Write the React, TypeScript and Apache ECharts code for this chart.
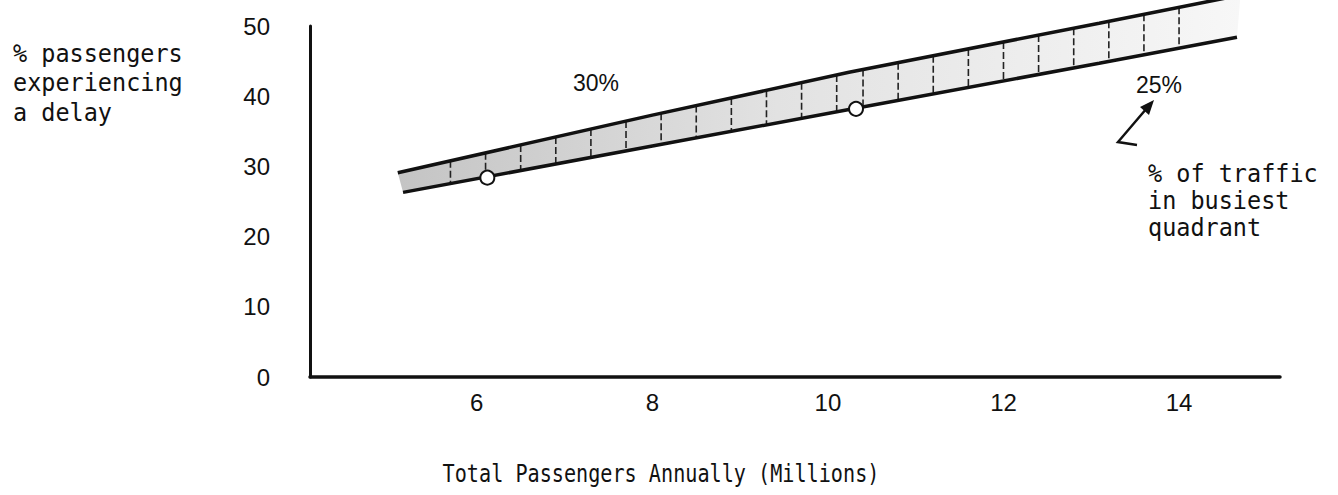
import React, { useEffect, useRef } from "react";
import * as echarts from "echarts";

// ---- data ----
const xTickValues = [6, 8, 10, 12, 14];
const yTicks = [0, 10, 20, 30, 40, 50];

// 30% traffic-in-busiest-quadrant line (upper edge of band)
const upperX = [5.1, 8.0, 10.24, 13.09, 14.7];
const upperY = [29.1, 37.3, 43.4, 50.4, 54.4];

// 25% line (lower edge of band)
const lowerX = [5.16, 8.0, 10.24, 13.09, 14.66];
const lowerY = [26.3, 32.9, 38.1, 44.7, 48.4];

// observed points (open circles)
const circleX = [6.12, 10.32];
const circleY = [28.4, 38.2];

// hand-drawn vertical hatch strokes inside the band
const hatchX = [5.7, 6.1, 6.5, 6.9, 7.3, 7.7, 8.1, 8.5, 8.9, 9.3, 9.7, 10.1, 10.4, 10.8, 11.2, 11.6, 12.0, 12.4, 12.8, 13.2, 13.6, 14.0];

const yTitle = ["% passengers", "experiencing", "a delay"];
const xTitle = "Total Passengers Annually (Millions)";
const noteLines = ["% of traffic", "in busiest", "quadrant"];
const labelUpper = "30%";
const labelLower = "25%";

const MONO = "'DejaVu Sans Mono', 'Liberation Mono', monospace";
const SANS = "'Liberation Sans', Arial, sans-serif";
const INK = "#111";

function interpAt(pts: number[][], px: number): number {
  for (let i = 0; i < pts.length - 1; i++) {
    const a = pts[i], b = pts[i + 1];
    if (px >= a[0] && px <= b[0]) {
      const t = (px - a[0]) / (b[0] - a[0]);
      return a[1] + t * (b[1] - a[1]);
    }
  }
  return px < pts[0][0] ? pts[0][1] : pts[pts.length - 1][1];
}

export default function App() {
  const ref = useRef<HTMLDivElement>(null);

  useEffect(() => {
    if (!ref.current) return;
    const chart = echarts.init(ref.current, null, { renderer: "svg" });

    const graphics: any[] = [];
    yTitle.forEach((t, i) => {
      graphics.push({
        type: "text",
        x: 13,
        y: [53, 82, 112][i],
        scaleX: 0.94,
        style: { text: t, font: `25px ${MONO}`, fill: INK, textAlign: "left", textVerticalAlign: "middle" },
      });
    });
    noteLines.forEach((t, i) => {
      graphics.push({
        type: "text",
        x: 1148,
        y: [173, 200, 227][i],
        scaleX: 0.94,
        style: { text: t, font: `25px ${MONO}`, fill: INK, textAlign: "left", textVerticalAlign: "middle" },
      });
    });
    graphics.push({
      type: "text",
      x: 661,
      y: 473,
      scaleX: 0.84,
      style: { text: xTitle, font: `24px ${MONO}`, fill: INK, textAlign: "center", textVerticalAlign: "middle" },
    });
    graphics.push({
      type: "text",
      x: 596,
      y: 83,
      style: { text: labelUpper, font: `23px ${SANS}`, fill: INK, textAlign: "center", textVerticalAlign: "middle" },
    });
    graphics.push({
      type: "text",
      x: 1159,
      y: 85,
      style: { text: labelLower, font: `23px ${SANS}`, fill: INK, textAlign: "center", textVerticalAlign: "middle" },
    });
    // arrow pointing to the 25% label
    graphics.push({
      type: "polyline",
      shape: { points: [[1137, 145], [1118, 142], [1147, 108]] },
      style: { stroke: INK, lineWidth: 2.5, fill: "none" },
    });
    graphics.push({
      type: "polygon",
      shape: { points: [[1154, 100], [1149, 115], [1140, 107]] },
      style: { fill: INK },
    });

    chart.setOption({
      animation: false,
      backgroundColor: "#fff",
      grid: { left: 310, right: 58, top: 26, bottom: 118 },
      xAxis: {
        type: "value",
        min: 4.1,
        max: 15.15,
        axisLine: { show: true, lineStyle: { color: INK, width: 3.5 } },
        axisTick: { show: false },
        splitLine: { show: false },
        axisLabel: {
          customValues: xTickValues,
          margin: 13,
          color: INK,
          fontSize: 24,
          fontFamily: SANS,
          formatter: (v: number) => String(v),
        },
      },
      yAxis: {
        type: "value",
        min: yTicks[0],
        max: yTicks[yTicks.length - 1],
        interval: 10,
        axisLine: { show: true, lineStyle: { color: INK, width: 3 } },
        axisTick: { show: false },
        splitLine: { show: false },
        axisLabel: { margin: 40, color: INK, fontSize: 24, fontFamily: SANS },
      },
      series: [
        {
          type: "custom",
          coordinateSystem: "cartesian2d",
          clip: false,
          silent: true,
          z: 1,
          data: [[10, 40]],
          renderItem: (_params: any, api: any) => {
            const up = upperX.map((x, i) => api.coord([x, upperY[i]]));
            const lo = lowerX.map((x, i) => api.coord([x, lowerY[i]]));
            const poly = up.concat(lo.slice().reverse());
            const hatch = hatchX.map((x) => {
              const px = api.coord([x, 0])[0];
              return {
                type: "line",
                shape: { x1: px, y1: interpAt(up, px), x2: px, y2: interpAt(lo, px) },
                style: { stroke: "#222", lineWidth: 1.6, lineDash: [7, 3] },
              };
            });
            return {
              type: "group",
              children: [
                {
                  type: "polygon",
                  shape: { points: poly },
                  style: {
                    fill: {
                      type: "linear", x: 0, y: 0, x2: 1, y2: 0,
                      colorStops: [
                        { offset: 0, color: "#c4c4c4" },
                        { offset: 0.45, color: "#e2e2e2" },
                        { offset: 1, color: "#f7f7f7" },
                      ],
                    },
                  },
                },
                ...hatch,
              ],
            };
          },
        },
        {
          type: "line",
          name: labelUpper,
          data: upperX.map((x, i) => [x, upperY[i]]),
          symbol: "none",
          clip: false,
          z: 3,
          lineStyle: { color: INK, width: 3.5 },
        },
        {
          type: "line",
          name: labelLower,
          data: lowerX.map((x, i) => [x, lowerY[i]]),
          symbol: "none",
          clip: false,
          z: 3,
          lineStyle: { color: INK, width: 3.5 },
        },
        {
          type: "scatter",
          data: circleX.map((x, i) => [x, circleY[i]]),
          symbol: "emptyCircle",
          symbolSize: 14,
          z: 4,
          itemStyle: { color: INK, borderColor: INK, borderWidth: 3, opacity: 1 },
        },
      ],
      graphic: graphics,
    });

    return () => chart.dispose();
  }, []);

  return (
    <div
      ref={ref}
      style={{ position: "fixed", left: 0, top: 0, width: 1338, height: 495, background: "#fff" }}
    />
  );
}
